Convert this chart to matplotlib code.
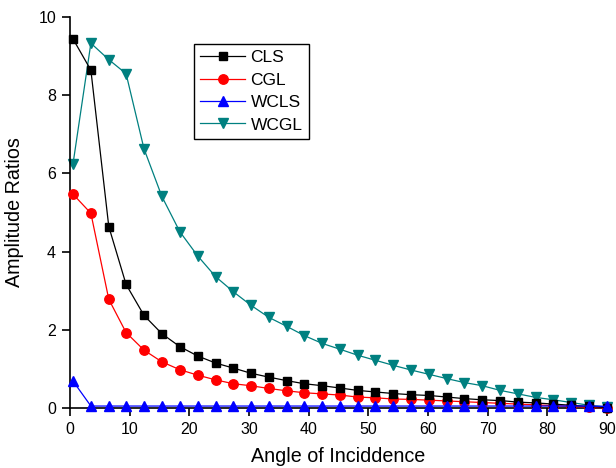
#!/usr/bin/env python3
# Amplitude ratios against angle of incidence for the four cases.

import matplotlib
matplotlib.use("Agg")
import matplotlib.pyplot as plt

matplotlib.rc("font", family=["Liberation Sans", "DejaVu Sans"], size=11.5)
matplotlib.rc("axes", linewidth=1.2)
matplotlib.rc("xtick.major", width=1.2, size=6, pad=4)
matplotlib.rc("ytick.major", width=1.2, size=6, pad=4)

# Data
angle = [0.5, 3.5, 6.5, 9.4, 12.4, 15.4, 18.4, 21.4, 24.4, 27.4, 30.3,
         33.3, 36.3, 39.3, 42.3, 45.3, 48.2, 51.2, 54.2, 57.2, 60.2,
         63.2, 66.1, 69.1, 72.1, 75.1, 78.1, 81.0, 84.0, 87.0, 90.0]
cls = [9.44, 8.64, 4.64, 3.16, 2.37, 1.90, 1.57, 1.33, 1.15, 1.02, 0.89,
       0.79, 0.70, 0.62, 0.57, 0.51, 0.45, 0.41, 0.37, 0.34, 0.32,
       0.28, 0.24, 0.21, 0.19, 0.15, 0.13, 0.10, 0.07, 0.04, 0.01]
cgl = [5.47, 4.98, 2.78, 1.93, 1.48, 1.18, 0.98, 0.84, 0.72, 0.62, 0.57,
       0.50, 0.44, 0.39, 0.36, 0.33, 0.28, 0.26, 0.23, 0.22, 0.20,
       0.18, 0.16, 0.14, 0.12, 0.10, 0.08, 0.06, 0.04, 0.02, 0.00]
wcls = [0.69] + [0.05] * 29 + [0.04]
wcgl = [6.24, 9.33, 8.91, 8.55, 6.63, 5.41, 4.51, 3.89, 3.36, 2.97, 2.63,
        2.32, 2.09, 1.85, 1.65, 1.50, 1.35, 1.22, 1.09, 0.97, 0.86,
        0.75, 0.65, 0.57, 0.45, 0.36, 0.27, 0.21, 0.14, 0.07, 0.03]

figure = plt.figure(figsize=(6.16, 4.68), dpi=100)
axes = figure.add_axes([70 / 616, 60 / 468, 537 / 616, 391 / 468])

axes.plot(angle, cls, color="black", marker="s", markersize=6.3,
          linewidth=0.9, label="CLS", clip_on=False, zorder=4)
axes.plot(angle, cgl, color="red", marker="o", markersize=6.8,
          linewidth=0.9, label="CGL", clip_on=False, zorder=3)
axes.plot(angle, wcls, color="blue", marker="^", markersize=7,
          linewidth=0.9, label="WCLS", clip_on=False, zorder=5)
axes.plot(angle, wcgl, color="#008080", marker="v", markersize=7.5,
          linewidth=0.9, label="WCGL", clip_on=False, zorder=2)

axes.set_xlim(0, 90)
axes.set_ylim(0, 10)
axes.set_xticks(range(0, 91, 10))
axes.set_yticks(range(0, 11, 2))
axes.spines["top"].set_visible(False)
axes.spines["right"].set_visible(False)
axes.xaxis.set_ticks_position("bottom")
axes.yaxis.set_ticks_position("left")
axes.set_xlabel("Angle of Inciddence", fontsize=14.2, labelpad=7)
axes.set_ylabel("Amplitude Ratios", fontsize=14.2, labelpad=10)

legend = axes.legend(loc="upper left", bbox_to_anchor=(0.231, 0.931),
                     fontsize=12.5, handlelength=2.6, labelspacing=0.42,
                     handletextpad=0.3, borderaxespad=0, borderpad=0.35,
                     fancybox=False, framealpha=1, edgecolor="black")
legend.get_frame().set_linewidth(1.0)

figure.savefig("out.png", dpi=100)
